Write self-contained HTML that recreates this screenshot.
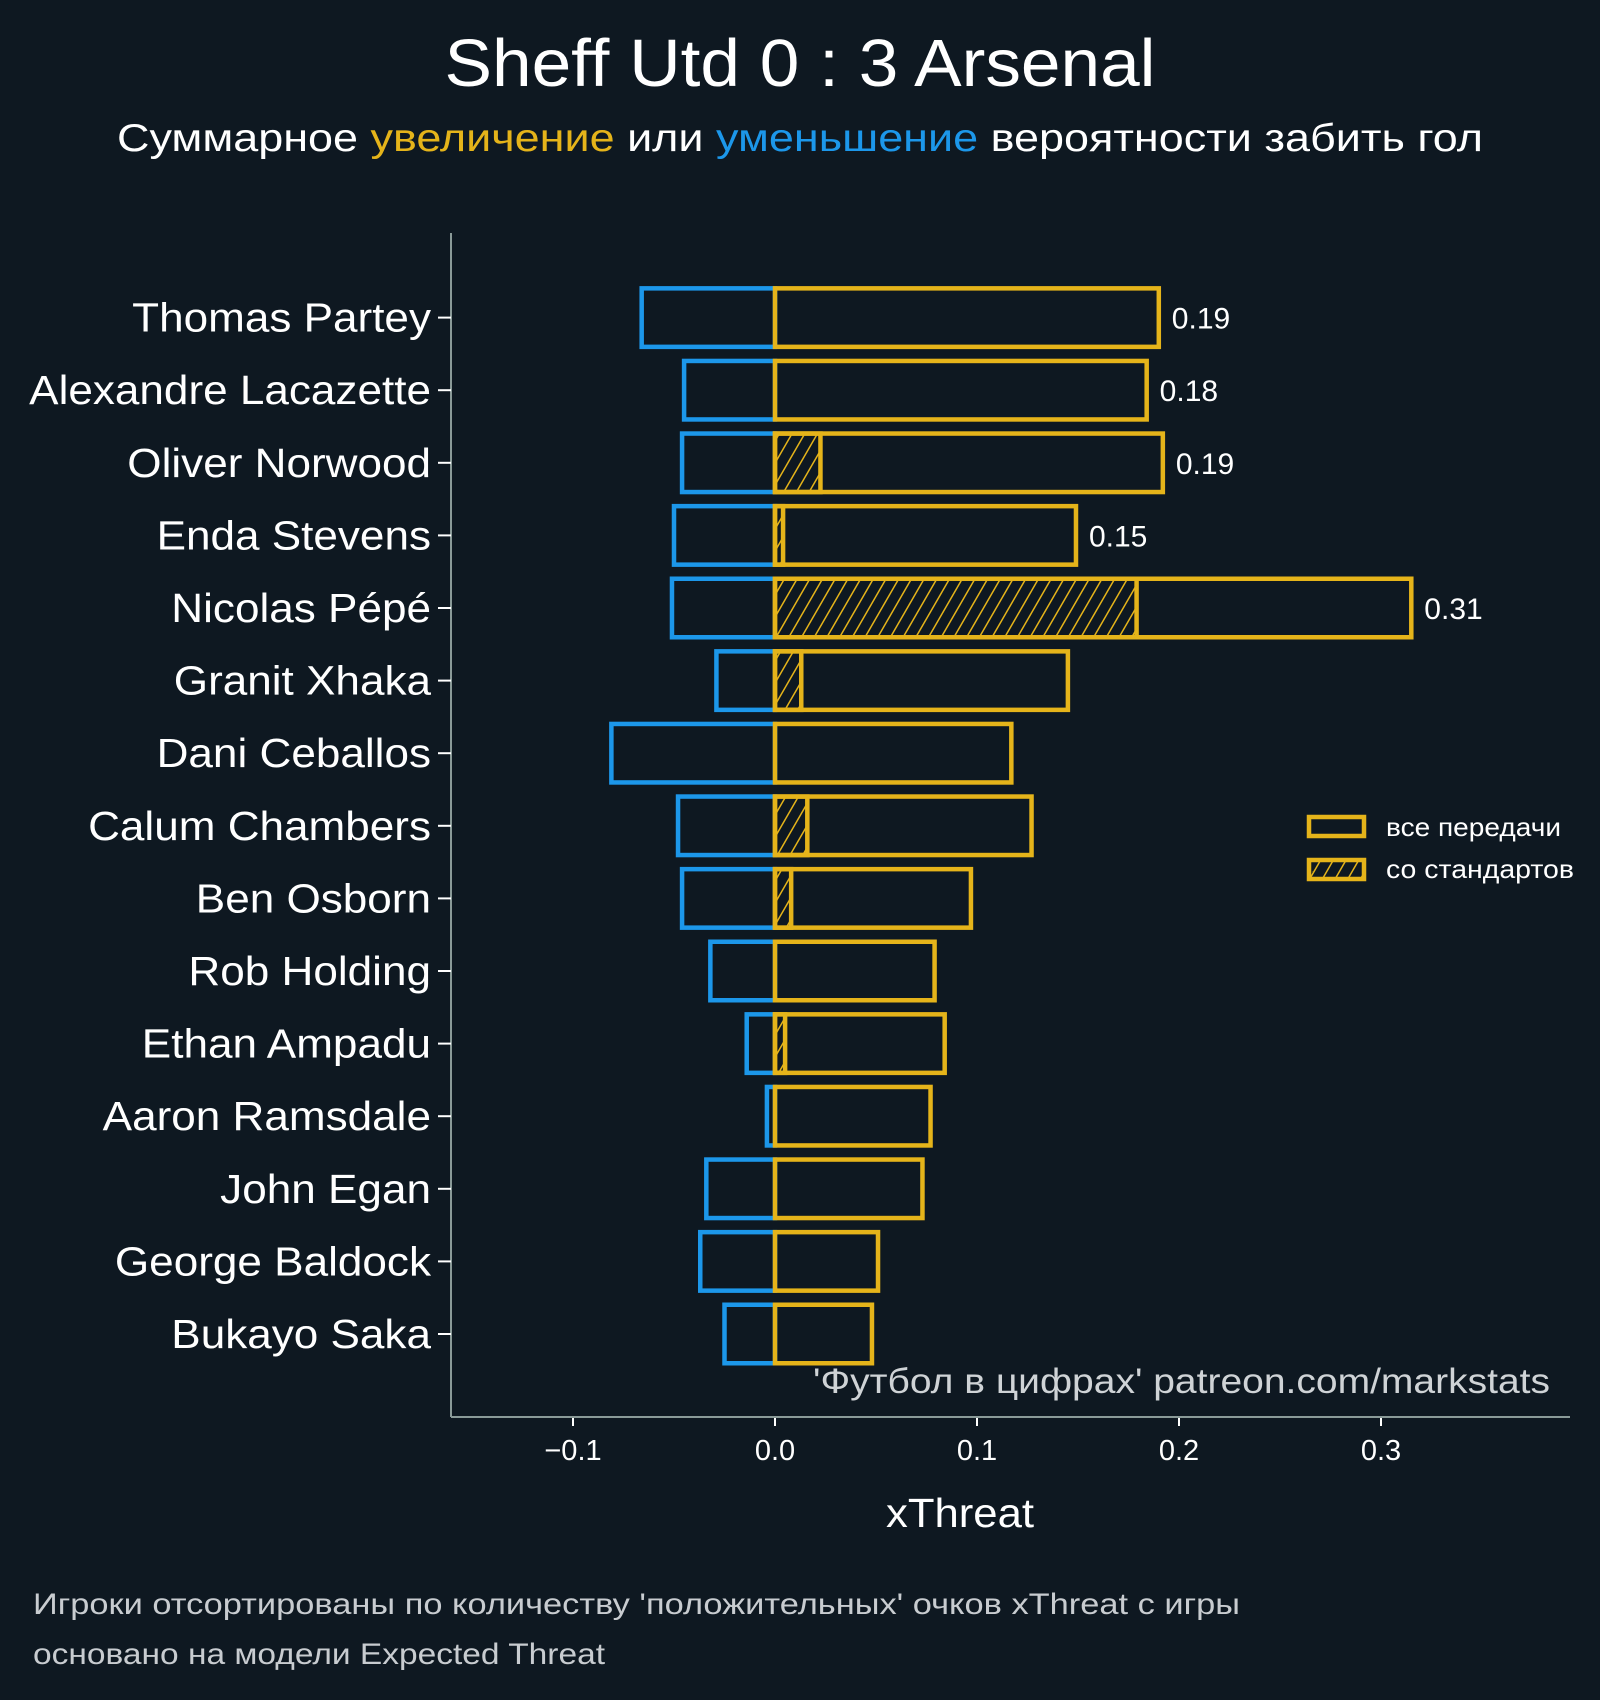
<!DOCTYPE html>
<html><head><meta charset="utf-8"><style>
html,body{margin:0;padding:0;background:#0e1821;}
svg{display:block;font-family:"Liberation Sans","DejaVu Sans",sans-serif;}
</style></head><body>
<svg id="chart" width="1600" height="1700" viewBox="0 0 1600 1700">
<defs>
<pattern id="hatch" patternUnits="userSpaceOnUse" width="11" height="11" patternTransform="rotate(30)">
<rect width="11" height="11" fill="#0e1821"/><line x1="0" y1="0" x2="0" y2="11" stroke="#e5b41a" stroke-width="3"/>
</pattern>
</defs>
<rect width="1600" height="1700" fill="#0e1821"/>
<text x="800" y="86" fill="#fff" font-size="67" text-anchor="middle" textLength="711" lengthAdjust="spacingAndGlyphs">Sheff Utd 0 : 3 Arsenal</text>
<text x="800" y="151" fill="#fff" font-size="39" text-anchor="middle" textLength="1366" lengthAdjust="spacingAndGlyphs">Суммарное <tspan fill="#e5b41a">увеличение</tspan> или <tspan fill="#1c97ea">уменьшение</tspan> вероятности забить гол</text>
<g id="plot"></g>
<text x="1550" y="1393" fill="#cfd3d6" font-size="35" text-anchor="end" textLength="737" lengthAdjust="spacingAndGlyphs">'Футбол в цифрах' patreon.com/markstats</text>
<text x="960" y="1527" fill="#fff" font-size="41" text-anchor="middle" textLength="148" lengthAdjust="spacingAndGlyphs">xThreat</text>
<text x="33" y="1614" fill="#c8ccd0" font-size="30" textLength="1207" lengthAdjust="spacingAndGlyphs">Игроки отсортированы по количеству 'положительных' очков xThreat с игры</text>
<text x="33" y="1664" fill="#c8ccd0" font-size="30" textLength="572" lengthAdjust="spacingAndGlyphs">основано на модели Expected Threat</text>
<g>
<rect x="1309" y="817" width="55" height="19" fill="none" stroke="#e5b41a" stroke-width="4.5"/>
<text x="1386" y="836" fill="#fff" font-size="26" textLength="175" lengthAdjust="spacingAndGlyphs">все передачи</text>
<rect x="1309" y="860" width="55" height="19" fill="url(#hatch)" stroke="#e5b41a" stroke-width="4.5"/>
<text x="1386" y="878" fill="#fff" font-size="26" textLength="188" lengthAdjust="spacingAndGlyphs">со стандартов</text>
</g>
</svg>
<script>
const players = ["Thomas Partey","Alexandre Lacazette","Oliver Norwood","Enda Stevens","Nicolas Pépé","Granit Xhaka","Dani Ceballos","Calum Chambers","Ben Osborn","Rob Holding","Ethan Ampadu","Aaron Ramsdale","John Egan","George Baldock","Bukayo Saka"];
const positive = [0.190,0.184,0.192,0.149,0.315,0.145,0.117,0.127,0.097,0.079,0.084,0.077,0.073,0.051,0.048];
const negative = [-0.066,-0.045,-0.046,-0.050,-0.051,-0.029,-0.081,-0.048,-0.046,-0.032,-0.014,-0.004,-0.034,-0.037,-0.025];
const setPieces = [0,0,0.0225,0.004,0.179,0.013,0,0.016,0.008,0,0.005,0,0,0,0];
const valueLabels = ["0.19","0.18","0.19","0.15","0.31"];
const xTicks = [-0.1,0.0,0.1,0.2,0.3];
const xTickLabels = ["−0.1","0.0","0.1","0.2","0.3"];

const NS="http://www.w3.org/2000/svg";
const g=document.getElementById('plot');
const x0=775, xs=2020;
const X=v=>x0+v*xs;
const Y=i=>317.6+i*72.6;
const bh=58.5;
function mk(tag,at,parent){const e=document.createElementNS(NS,tag);for(const k in at)e.setAttribute(k,at[k]);(parent||g).appendChild(e);return e;}

let e=mk('line',{x1:451,y1:233,x2:451,y2:1417,stroke:'#8a9a98','stroke-width':2});


e=mk('line',{x1:451,y1:1417,x2:1570,y2:1417,stroke:'#8a9a98','stroke-width':2});



xTicks.forEach((t,i)=>{
  const tk=mk('line',{x1:X(t),y1:1418,x2:X(t),y2:1426,stroke:'#fff','stroke-width':2});
  
  
  const tl=mk('text',{x:X(t),y:1460,fill:'#fff','font-size':29,'text-anchor':'middle'});
  tl.textContent=xTickLabels[i];
  
  
});

players.forEach((p,i)=>{
  const cy=Y(i), top=cy-bh/2;
  const tk=mk('line',{x1:438,y1:cy,x2:451,y2:cy,stroke:'#fff','stroke-width':2});
  
  
  const lb=mk('text',{x:431,y:cy+14,fill:'#fff','font-size':41,'text-anchor':'end'});
  lb.textContent=p;
  
  
  const w=lb.getComputedTextLength();
  if(w>0){lb.setAttribute('textLength',(w*1.075).toFixed(1));lb.setAttribute('lengthAdjust','spacingAndGlyphs');}
  const nb=mk('rect',{x:X(negative[i]),y:top,width:X(0)-X(negative[i]),height:bh,fill:'none',stroke:'#1c97ea','stroke-width':4.5});
  
  
  if(setPieces[i]>0){
    const sb=mk('rect',{x:X(0),y:top,width:X(setPieces[i])-X(0),height:bh,fill:'url(#hatch)',stroke:'#e5b41a','stroke-width':4.5});
    
    
  }
  const pb=mk('rect',{x:X(0),y:top,width:X(positive[i])-X(0),height:bh,fill:'none',stroke:'#e5b41a','stroke-width':4.5});
  
  
  if(i<valueLabels.length){
    const vl=mk('text',{x:X(positive[i])+13,y:cy+11,fill:'#fff','font-size':30});
    vl.textContent=valueLabels[i];
    
    
  }
});
</script>
</body></html>
